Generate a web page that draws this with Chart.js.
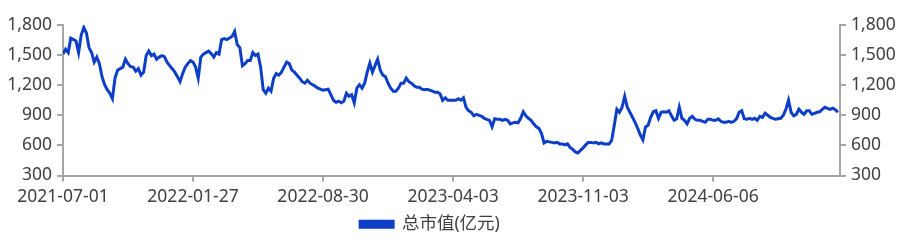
<!DOCTYPE html>
<html lang="zh">
<head>
  <meta charset="UTF-8" />
  <title>总市值(亿元)</title>
  <script src="https://cdn.jsdelivr.net/npm/chart.js@4.4.1/dist/chart.umd.min.js"></script>
  <style>
    html, body { margin: 0; padding: 0; background: #fff; }
    #wrap { width: 904px; height: 243px; }
  </style>
</head>
<body>
  <div id="wrap"><canvas id="mvChart"></canvas></div>

  <script>
    // 总市值(亿元)，按交易日顺序
    const seriesName = "总市值(亿元)";
    const marketValue = [
      1510, 1558, 1525, 1670, 1655, 1640, 1525, 1700, 1775, 1720,
      1575, 1525, 1430, 1480, 1415, 1285, 1205, 1155, 1120, 1065,
      1270, 1350, 1365, 1380, 1460, 1415, 1385, 1380, 1340, 1365,
      1300, 1330, 1495, 1540, 1495, 1510, 1460, 1480, 1495, 1485,
      1430, 1395, 1365, 1330, 1285, 1235, 1315, 1380, 1415, 1445,
      1430, 1380, 1270, 1480, 1510, 1525, 1540, 1515, 1480, 1525,
      1510, 1655, 1665, 1655, 1670, 1685, 1735, 1605, 1575, 1395,
      1415, 1445, 1445, 1525, 1495, 1510, 1380, 1155, 1120, 1170,
      1140, 1270, 1315, 1300, 1330, 1380, 1430, 1415, 1350, 1330,
      1300, 1270, 1235, 1220, 1250, 1220, 1205, 1190, 1170, 1160,
      1150, 1155, 1160, 1105, 1050, 1030, 1040, 1025, 1040, 1120,
      1090, 1105, 1025, 1170, 1205, 1170, 1220, 1330, 1420, 1330,
      1395, 1460, 1350, 1300, 1285, 1220, 1170, 1140, 1140, 1170,
      1220, 1220, 1270, 1235, 1220, 1195, 1180, 1180, 1160, 1155,
      1160, 1150, 1140, 1130, 1130, 1115, 1050, 1075, 1050, 1050,
      1050, 1050, 1065, 1050, 1075, 980, 945, 930, 895, 910,
      900, 890, 870, 860, 850, 785, 865, 860, 860, 850,
      860, 850, 815, 825, 830, 825, 870, 935, 895, 870,
      850, 815, 785, 770, 720, 625, 640, 635, 630, 625,
      630, 615, 615, 605, 615, 580, 560, 535, 525, 550,
      575, 605, 630, 630, 625, 630, 615, 625, 615, 615,
      615, 650, 800, 960, 930, 980, 1090, 980, 930, 880,
      830, 770, 705, 655, 785, 800, 880, 935, 945, 870,
      930, 935, 930, 945, 895, 850, 865, 980, 870, 850,
      815, 870, 890, 860, 850, 850, 840, 830, 860, 860,
      850, 850, 865, 840, 830, 830, 840, 830, 840, 865,
      930, 945, 865, 860, 870, 860, 870, 850, 890, 880,
      920, 900, 880, 870, 860, 865, 870, 900, 960, 1050,
      930, 895, 910, 960, 930, 910, 945, 945, 910, 920,
      930, 935, 960, 980, 970, 960, 970, 955, 930
    ];

    // 横轴刻度：在序列中的位置和对应日期
    const dateTickIndex = [0, 50, 100, 150, 200, 250];
    const dateTickLabels = ["2021-07-01", "2022-01-27", "2022-08-30", "2023-04-03", "2023-11-03", "2024-06-06"];
    const xEnd = 298.8;

    // 纵轴刻度（左右相同）
    const valueTicks = [300, 600, 900, 1200, 1500, 1800];

    const lineBlue = "#0c3fc6";
    const axisGrey = "#a6a6a6";
    const textGrey = "#404040";
    const fontFamily = '"Noto Sans", "Noto Sans CJK SC", sans-serif';

    Chart.defaults.font.family = fontFamily;
    Chart.defaults.color = textGrey;

    const points = marketValue.map((v, i) => ({ x: i, y: v }));

    // 图例整体往左挪一点
    const legendShift = {
      id: "legendShift",
      afterLayout(chart) {
        chart.legend.left -= 22;
        chart.legend.right -= 22;
      },
    };

    function valueAxis(pos, width) {
      return {
        type: "linear",
        position: pos,
        min: valueTicks[0],
        max: valueTicks[valueTicks.length - 1],
        afterBuildTicks: (s) => { s.ticks = valueTicks.map((v) => ({ value: v })); },
        afterFit: (s) => { s.width = width; },
        grid: {
          drawOnChartArea: false,
          drawTicks: true,
          tickLength: 6,
          color: axisGrey,
          lineWidth: 2,
        },
        border: { display: true, color: axisGrey, width: 2 },
        ticks: {
          padding: 5,
          font: { size: 17.5 },
          color: textGrey,
          callback: (v) => Number(v).toLocaleString("en-US"),
        },
      };
    }

    new Chart(document.getElementById("mvChart"), {
      type: "line",
      data: {
        datasets: [
          {
            label: seriesName,
            data: points,
            borderColor: lineBlue,
            backgroundColor: lineBlue,
            borderWidth: 3,
            pointRadius: 0,
            tension: 0,
            yAxisID: "y",
          },
        ],
      },
      options: {
        responsive: true,
        maintainAspectRatio: false,
        animation: false,
        layout: { padding: { top: 25, left: 0, right: 0, bottom: 0 } },
        plugins: {
          tooltip: { enabled: false },
          legend: {
            position: "bottom",
            labels: {
              boxWidth: 33,
              boxHeight: 6,
              padding: 6,
              color: textGrey,
              font: { size: 17.5 },
            },
          },
        },
        scales: {
          x: {
            type: "linear",
            min: 0,
            max: xEnd,
            afterBuildTicks: (s) => { s.ticks = dateTickIndex.map((v) => ({ value: v })); },
            afterFit: (s) => { s.height = 34; },
            grid: {
              drawOnChartArea: false,
              drawTicks: true,
              tickLength: 6,
              color: axisGrey,
              lineWidth: 2,
            },
            border: { display: true, color: axisGrey, width: 2 },
            ticks: {
              padding: 5,
              maxRotation: 0,
              autoSkip: false,
              font: { size: 17.5 },
              color: textGrey,
              callback: (v) => {
                const k = dateTickIndex.indexOf(v);
                return k >= 0 ? dateTickLabels[k] : "";
              },
            },
          },
          y: valueAxis("left", 63),
          y2: valueAxis("right", 64),
        },
      },
      plugins: [legendShift],
    });
  </script>
</body>
</html>
